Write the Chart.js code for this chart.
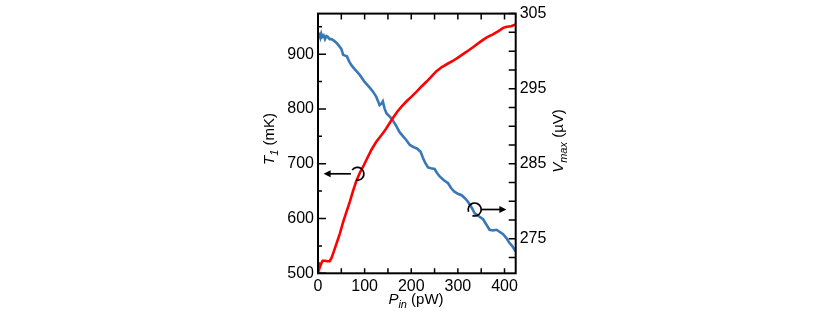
<!DOCTYPE html>
<html>
<head>
<meta charset="utf-8">
<script src="https://cdn.jsdelivr.net/npm/chart.js@4"></script>
<style>
  body { margin: 0; background: #fff; }
  canvas { display: block; }
</style>
</head>
<body>
<canvas id="grafico" width="830" height="316"></canvas>
<script>
// potencia de entrada (pW) y temperatura T1 (mK), curva roja
var potencia_T = [0, 2, 4, 7, 10, 15, 20, 25, 29, 34, 40, 47, 54, 61, 68, 75, 82, 90, 97, 105, 115, 125, 135, 143, 152, 161, 170, 180, 190, 200, 212, 222, 233, 244, 254, 265, 277, 290, 304, 318, 333, 347, 361, 375, 387, 397, 405, 414, 424];
var temperatura = [520, 514, 511, 518, 523, 523, 522, 522, 528, 540, 555, 573, 594, 612, 630, 650, 668, 684, 695, 709, 726, 740, 751, 760, 772, 784, 795, 805, 814, 822, 832, 841, 850, 860, 869, 876, 882, 888, 896, 904, 913, 922, 930, 936, 942, 948, 950, 951, 954];

// potencia (pW) y Vmax (uV), curva azul
var potencia_V = [0, 3, 5, 7, 9, 12, 15, 18, 21, 25, 29, 34, 40, 45, 50, 54, 58, 62, 67, 72, 80, 90, 100, 110, 118, 125, 129, 132, 136, 139, 143, 147, 155, 161, 168, 175, 183, 190, 197, 205, 213, 220, 225, 230, 236, 242, 250, 255, 261, 270, 279, 285, 292, 300, 308, 315, 322, 330, 336, 345, 354, 361, 368, 375, 383, 390, 397, 404, 410, 417, 424];
var voltaje = [302.0, 302.2, 301.8, 302.3, 301.9, 302.1, 301.6, 302.0, 301.9, 301.6, 301.6, 301.4, 301.1, 300.7, 300.3, 299.5, 299.4, 299.3, 298.6, 298.1, 297.5, 296.8, 295.9, 295.2, 294.6, 293.9, 293.3, 292.8, 293.0, 293.3, 292.3, 291.7, 291.2, 290.7, 290.0, 289.2, 288.6, 288.1, 287.5, 287.2, 287.0, 286.6, 285.8, 285.1, 284.5, 284.4, 284.3, 283.8, 283.3, 282.8, 282.4, 281.8, 281.3, 281.0, 280.8, 280.4, 279.9, 279.1, 278.4, 278.0, 277.6, 276.9, 276.2, 276.1, 276.2, 275.9, 275.6, 275.1, 274.5, 274.0, 273.3];

// limites de ejes
var eje_x = { min: 0, max: 424, paso: 50 };
var eje_T = { min: 500, max: 974, paso: 50 };
var eje_V = { min: 270.4, max: 305, paso: 2.5 };

// circulos con flechas: [x, y] del circulo y x de la punta
var marca_T = { x: 84.5, y: 681.6, hasta: 12 };
var marca_V = { x: 336, y: 278.9, hasta: 404 };

var fuente = '"Liberation Sans", Arial, sans-serif';
Chart.defaults.font.family = fuente;
Chart.defaults.font.size = 16;
Chart.defaults.color = '#000';

function a_puntos(xs, ys) {
	return xs.map(function (x, i) { return { x: x, y: ys[i] }; });
}

//arma los ticks: todos los multiplos del paso dentro del rango
function armar_ticks(eje) {
	return function (scale) {
		var lista = [];
		var v = Math.ceil(eje.min / eje.paso - 1e-9) * eje.paso;
		for (; v <= eje.max + 1e-9; v += eje.paso) {
			lista.push({ value: Math.round(v * 1000) / 1000 });
		}
		scale.ticks = lista;
	};
}

function texto_con_sub(ctx, partes, x, y) {
	// partes: [texto, italica, subindice]
	var pos = x;
	partes.forEach(function (p) {
		ctx.font = (p[1] ? 'italic ' : '') + (p[2] ? '11px ' : '15px ') + fuente;
		ctx.fillText(p[0], pos, y + (p[2] ? 4 : 0));
		pos += ctx.measureText(p[0]).width;
	});
}

function ancho_partes(ctx, partes) {
	var w = 0;
	partes.forEach(function (p) {
		ctx.font = (p[1] ? 'italic ' : '') + (p[2] ? '11px ' : '15px ') + fuente;
		w += ctx.measureText(p[0]).width;
	});
	return w;
}

function flecha(ctx, x0, y, x1) {
	var dir = x1 > x0 ? 1 : -1;
	ctx.beginPath();
	ctx.moveTo(x0, y);
	ctx.lineTo(x1 - dir * 5, y);
	ctx.stroke();
	ctx.beginPath();
	ctx.moveTo(x1, y);
	ctx.lineTo(x1 - dir * 7, y - 3.5);
	ctx.lineTo(x1 - dir * 7, y + 3.5);
	ctx.closePath();
	ctx.fill();
}

var decorado = {
	id: 'decorado',
	afterDraw: function (chart) {
		var ctx = chart.ctx;
		var a = chart.chartArea;
		var sx = chart.scales.x, sT = chart.scales.yT, sV = chart.scales.yV;
		ctx.save();
		ctx.strokeStyle = '#000';
		ctx.fillStyle = '#000';

		// marco
		ctx.lineWidth = 2;
		ctx.strokeRect(a.left, a.top, a.right - a.left, a.bottom - a.top);

		// ticks hacia adentro
		ctx.lineWidth = 1.5;
		ctx.beginPath();
		sx.ticks.forEach(function (t) {
			var px = sx.getPixelForValue(t.value);
			ctx.moveTo(px, a.bottom); ctx.lineTo(px, a.bottom - 5);
			ctx.moveTo(px, a.top); ctx.lineTo(px, a.top + 6);
		});
		sT.ticks.forEach(function (t) {
			var py = sT.getPixelForValue(t.value);
			var largo = (t.value % 100 === 0) ? 8 : 4;
			ctx.moveTo(a.left, py); ctx.lineTo(a.left + largo, py);
		});
		sV.ticks.forEach(function (t) {
			var py = sV.getPixelForValue(t.value);
			ctx.moveTo(a.right, py); ctx.lineTo(a.right - 7, py);
		});
		ctx.stroke();

		// circulo izquierdo -> eje T
		var cx = sx.getPixelForValue(marca_T.x), cy = sT.getPixelForValue(marca_T.y);
		ctx.lineWidth = 1.7;
		ctx.beginPath();
		ctx.arc(cx, cy, 6.5, 217 * Math.PI / 180, 100 * Math.PI / 180);
		ctx.stroke();
		flecha(ctx, cx - 6.5, cy, sx.getPixelForValue(marca_T.hasta));

		// circulo derecho -> eje V
		cx = sx.getPixelForValue(marca_V.x); cy = sV.getPixelForValue(marca_V.y);
		ctx.beginPath();
		ctx.arc(cx, cy, 6.5, 160 * Math.PI / 180, 110 * Math.PI / 180);
		ctx.stroke();
		flecha(ctx, cx + 6.5, cy, sx.getPixelForValue(marca_V.hasta));

		// titulos de ejes
		ctx.textBaseline = 'alphabetic';
		ctx.textAlign = 'left';
		var tit_x = [['P', true, false], ['in', true, true], [' (pW)', false, false]];
		texto_con_sub(ctx, tit_x, 416 - ancho_partes(ctx, tit_x) / 2, 304);

		var tit_T = [['T', true, false], ['1', true, true], [' (mK)', false, false]];
		ctx.save();
		ctx.translate(274, 139);
		ctx.rotate(-Math.PI / 2);
		texto_con_sub(ctx, tit_T, -ancho_partes(ctx, tit_T) / 2, 0);
		ctx.restore();

		var tit_V = [['V', true, false], ['max', true, true], [' (\u00b5V)', false, false]];
		ctx.save();
		ctx.translate(563, 141);
		ctx.rotate(-Math.PI / 2);
		texto_con_sub(ctx, tit_V, -ancho_partes(ctx, tit_V) / 2, 0);
		ctx.restore();

		ctx.restore();
	}
};

var configuracion = {
	type: 'line',
	data: {
		datasets: [{
			label: 'T1',
			data: a_puntos(potencia_T, temperatura),
			borderColor: '#ff0000',
			borderWidth: 2.6,
			yAxisID: 'yT'
		}, {
			label: 'Vmax',
			data: a_puntos(potencia_V, voltaje),
			borderColor: '#3878b8',
			borderWidth: 2.6,
			yAxisID: 'yV'
		}]
	},
	options: {
		responsive: false,
		animation: false,
		devicePixelRatio: 1,
		layout: { padding: { top: 10, left: 0, right: 0, bottom: 0 } },
		elements: { point: { radius: 0 }, line: { tension: 0 } },
		plugins: { legend: { display: false }, tooltip: { enabled: false } },
		scales: {
			x: {
				type: 'linear', min: eje_x.min, max: eje_x.max,
				grid: { display: false, drawTicks: false }, border: { display: false },
				ticks: {
					padding: 4, maxRotation: 0, autoSkip: false,
					callback: function (v) { return v % 100 === 0 ? v : ''; }
				},
				afterBuildTicks: armar_ticks(eje_x),
				afterFit: function (s) { s.height = 42.7; }
			},
			yT: {
				position: 'left', min: eje_T.min, max: eje_T.max,
				grid: { display: false, drawTicks: false }, border: { display: false },
				ticks: {
					padding: 4, autoSkip: false,
					callback: function (v) { return v % 100 === 0 ? v : ''; }
				},
				afterBuildTicks: armar_ticks(eje_T),
				afterFit: function (s) { s.width = 318; }
			},
			yV: {
				position: 'right', min: eje_V.min, max: eje_V.max,
				grid: { display: false, drawTicks: false }, border: { display: false },
				ticks: {
					padding: 4, autoSkip: false,
					callback: function (v) { return Math.abs((v - 275) % 10) < 1e-6 ? v : ''; }
				},
				afterBuildTicks: armar_ticks(eje_V),
				afterFit: function (s) { s.width = 314.3; }
			}
		}
	},
	plugins: [decorado]
};

var ctx = document.getElementById('grafico').getContext('2d');
window.mi_grafico = new Chart(ctx, configuracion);
</script>
</body>
</html>
